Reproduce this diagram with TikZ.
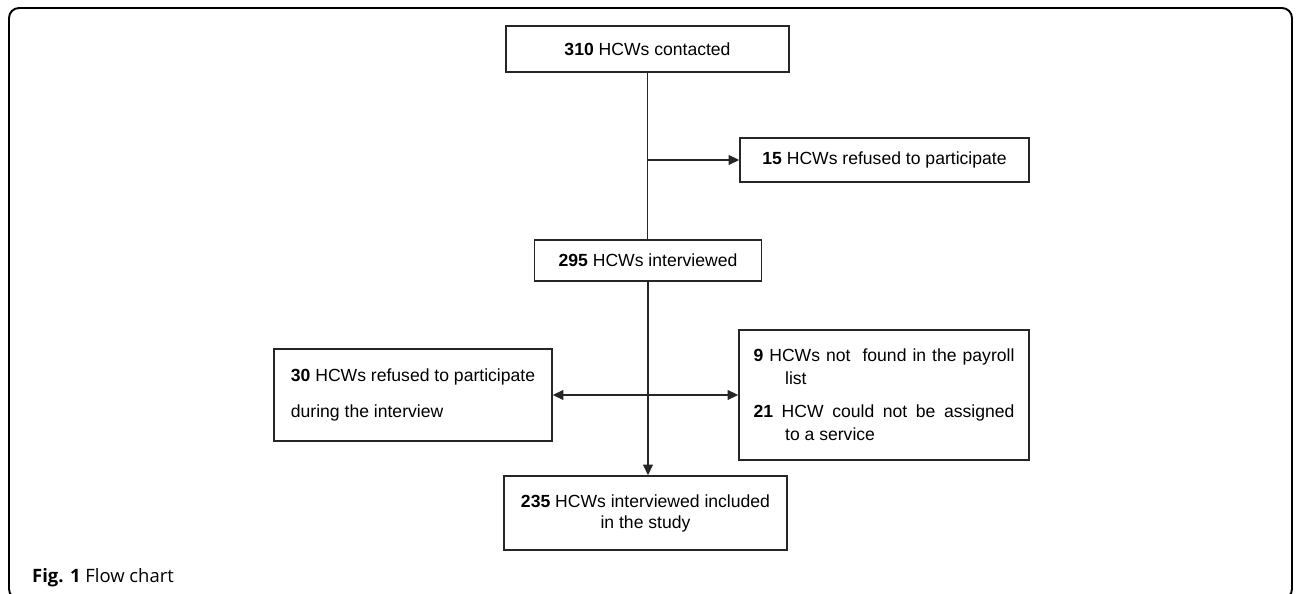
\documentclass[tikz,border=0pt]{standalone}
\usepackage{fontspec}
\setmainfont{Liberation Sans}
\newfontfamily\captionfont{Open Sans}
\usetikzlibrary{arrows.meta}
\begin{document}
\begin{tikzpicture}[x=0.02cm,y=-0.02cm,font=\fontsize{10}{12}\selectfont]
\tikzstyle{stage}=[draw=black!85,line width=0.85pt,inner sep=0pt,align=center]
\tikzstyle{plain}=[line width=0.85pt,draw=black!85]
\tikzstyle{flow}=[plain,-{Triangle[length=6pt,width=5.5pt]}]
\tikzstyle{both}=[plain,{Triangle[length=6pt,width=5.5pt]}-{Triangle[length=6pt,width=5.5pt]}]

\useasboundingbox (0,0) rectangle (1296,594);
\draw[line width=1.1pt,rounded corners=0.2cm] (9,8) rectangle (1292,599);

\node[stage,minimum width=5.66cm,minimum height=0.92cm] (contacted) at (647.5,49) {\textbf{310} HCWs contacted};
\node[stage,minimum width=5.78cm,minimum height=0.88cm] (refused15) at (884.5,160) {\textbf{15} HCWs refused to participate};
\node[stage,minimum width=4.54cm,minimum height=0.82cm] (interviewed) at (648,260.5) {\textbf{295} HCWs interviewed};
\node[stage,align=left,minimum width=5.56cm,minimum height=1.84cm,font=\fontsize{10}{20.4}\selectfont] (refused30) at (413,395)
  {\textbf{30} HCWs refused to participate\\during the interview};
\node[stage,align=left,minimum width=5.8cm,minimum height=2.6cm,font=\fontsize{10}{13}\selectfont] (excluded) at (884,395)
  {\makebox[5.22cm][s]{\textbf{9} HCWs not\ \ found in the payroll}\\
   \hspace*{18pt}list\\[6pt]
   \makebox[5.22cm][s]{\textbf{21} HCW could not be assigned}\\
   \hspace*{18pt}to a service};
\node[stage,minimum width=5.66cm,minimum height=1.48cm] (included) at (645.5,513)
  {\textbf{235} HCWs interviewed included\\in the study};
\node[anchor=base west,font=\captionfont\fontsize{10.5}{12}\selectfont] (caption) at (26,583) {\textbf{Fig. 1} Flow chart};

\coordinate (split1) at (contacted.south |- refused15.west);

\path
  (contacted.south) edge [plain] (contacted.south |- interviewed.north)
  (split1) edge [flow] (refused15.west)
  (interviewed.south) edge [flow] (interviewed.south |- included.north)
  (refused30.east) edge [both] (excluded.west);
\end{tikzpicture}
\end{document}
